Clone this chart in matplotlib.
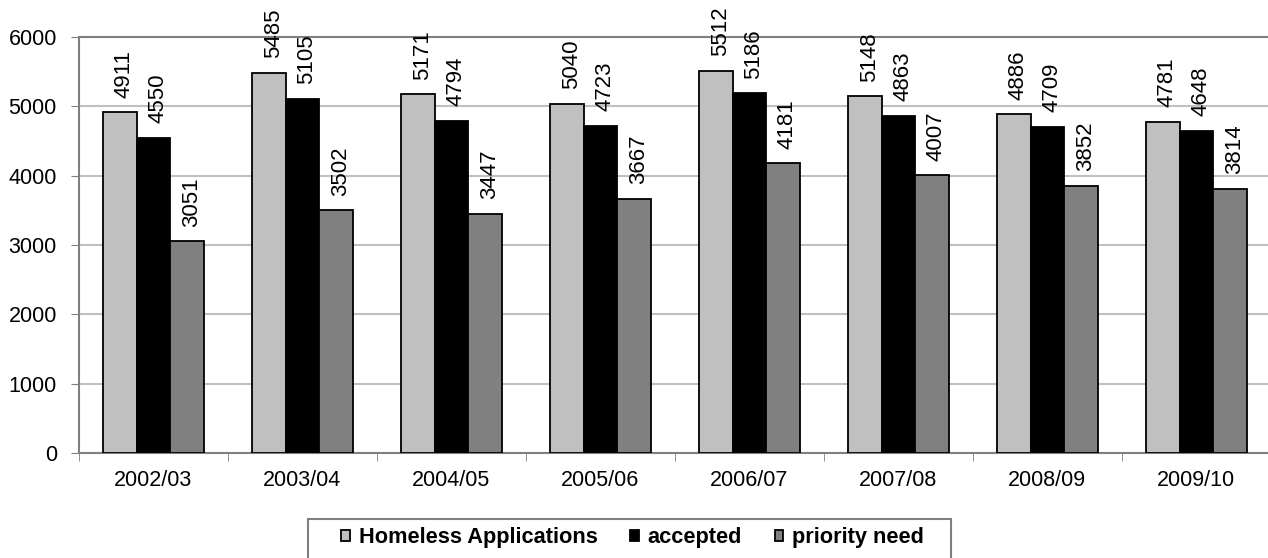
import matplotlib
matplotlib.use("Agg")
import matplotlib.pyplot as plt
from matplotlib.patches import Rectangle
import numpy as np

plt.rcParams["font.family"] = ["Liberation Sans", "DejaVu Sans"]

years = ["2002/03", "2003/04", "2004/05", "2005/06",
         "2006/07", "2007/08", "2008/09", "2009/10"]
applications = [4911, 5485, 5171, 5040, 5512, 5148, 4886, 4781]
accepted = [4550, 5105, 4794, 4723, 5186, 4863, 4709, 4648]
priority_need = [3051, 3502, 3447, 3667, 4181, 4007, 3852, 3814]

series = [
    ("Homeless Applications", applications, "#c0c0c0"),
    ("accepted", accepted, "#000000"),
    ("priority need", priority_need, "#808080"),
]

fig = plt.figure(figsize=(12.68, 5.58), dpi=100)
ax = fig.add_axes([0.0623, 0.1882, 0.940, 0.7455])

x = np.arange(len(years))
w = 0.225
for i, (name, vals, col) in enumerate(series):
    bars = ax.bar(x + (i - 1) * w, vals, w, color=col, edgecolor="black",
                  linewidth=1.3, label=name, zorder=3)
    for bar, v in zip(bars, vals):
        ax.text(bar.get_x() + bar.get_width() / 2 + 0.03, v + 210, str(v),
                rotation=90, ha="center", va="bottom", fontsize=16,
                zorder=4)

ax.set_xlim(-0.5, len(years) - 0.5)
ax.set_ylim(0, 6000)
ax.set_yticks(range(0, 6001, 1000))
ax.set_xticks(x)
ax.set_xticklabels(years)
ax.set_xticks(np.arange(-0.5, len(years)), minor=True)
ax.tick_params(axis="x", which="major", length=0, pad=12, labelsize=15.5)
ax.tick_params(axis="x", which="minor", length=6, color="#808080")
ax.tick_params(axis="y", length=6, color="#808080", labelsize=15.5, pad=10)

ax.grid(axis="y", color="#c0c0c0", linewidth=1.5, zorder=0)
ax.spines["right"].set_visible(False)
for side in ("top", "left", "bottom"):
    ax.spines[side].set_color("#808080")
    ax.spines[side].set_linewidth(1.5)

# legend box drawn separately so its padding can be set in pixels
fig.patches.append(Rectangle((308 / 1268, -0.05), (951 - 308) / 1268,
                             1 - 519 / 558 + 0.05, transform=fig.transFigure,
                             facecolor="white", edgecolor="#808080",
                             linewidth=1.5))
fig.legend(loc="center", bbox_to_anchor=(632.5 / 1268, 0.036), ncol=3,
           frameon=False, handlelength=0.4, handleheight=0.4,
           handletextpad=0.4, columnspacing=1.5, borderpad=0,
           prop={"weight": "bold", "size": 15.7})

fig.savefig("out.png", dpi=100)
